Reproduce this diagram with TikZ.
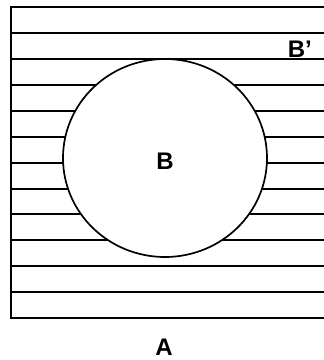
\documentclass[tikz,border=0pt]{standalone}
\usepackage{fontspec}
\setmainfont{Liberation Sans}
\usetikzlibrary{shapes.geometric}
\begin{document}
\begin{tikzpicture}[x=1pt,y=-1pt,
  rule/.style={line width=2pt},
  setB/.style={ellipse, draw, line width=1.7pt, fill=white,
    minimum width=204pt, minimum height=198pt, inner sep=0pt},
  setlabel/.style={font=\bfseries\fontsize{24}{28}\selectfont, inner sep=0pt}]
  \useasboundingbox (0,0) rectangle (324,360);
  \clip (0,0) rectangle (324,360);
  % universe A: left edge and horizontal hatching
  \coordinate (tl) at (11,6);
  \coordinate (bl) at (11,319);
  \draw[rule] (tl) -- (bl);
  \foreach \y [count=\i] in {7,33,59,85,111,137,163,189,214,240,266,292,318} {
    \coordinate (l\i) at (10,\y);
    \coordinate (r\i) at (330,\y);
    \draw[rule] (l\i) -- (r\i);
  }
  % set B, covering the hatching
  \node[setB] (B) at (165,158) {};
  % labels
  \node[setlabel, anchor=base] (labB) at (165,169) {B};
  \node[setlabel, anchor=base east] (labBc) at (312,57) {B’};
  \node[setlabel, anchor=base] (labA) at (164,355) {A};
\end{tikzpicture}
\end{document}
